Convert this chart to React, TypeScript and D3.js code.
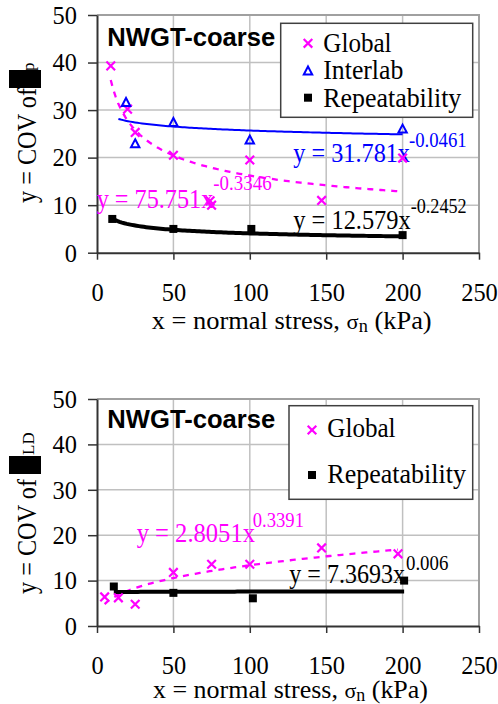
import React, { useEffect, useRef } from "react";
import * as d3 from "d3";

// axis ticks
const xTicks = [0, 50, 100, 150, 200, 250];
const yTicks = [0, 10, 20, 30, 40, 50];

// top panel (COV of ..p)
const topGlobalX = [9, 20, 25, 50, 74, 75, 100, 147, 200];
const topGlobalY = [39.3, 30.2, 25.3, 20.5, 10.9, 10.0, 19.5, 11.0, 19.9];
const topInterlabX = [19, 25, 50, 100, 200];
const topInterlabY = [31.6, 22.9, 27.4, 23.7, 26.0];
const topRepeatX = [10, 50, 101, 200];
const topRepeatY = [7.1, 5.0, 5.0, 3.7];

// power trendlines y = a * x^b : [a, b, xFrom, xTo]
const topGlobalFit = [75.751, -0.3346, 9, 200];
const topInterlabFit = [31.781, -0.0461, 14, 200];
const topRepeatFit = [12.579, -0.2452, 10, 200];

// bottom panel (COV of ..LD)
const botGlobalX = [5, 14, 25, 50, 75, 100, 147, 197];
const botGlobalY = [6.4, 6.2, 4.8, 11.8, 13.6, 13.6, 17.2, 15.9];
const botRepeatX = [11, 50, 102, 201];
const botRepeatY = [8.7, 7.3, 6.1, 10.0];
const botGlobalFit = [2.8051, 0.3391, 5, 197];
const botRepeatFit = [7.3693, 0.006, 11, 201];

const SERIF = "'Liberation Serif', 'Times New Roman', 'DejaVu Serif', serif";
const SANS = "'Liberation Sans', Arial, sans-serif";
const MAGENTA = "#ff00ff";
const BLUE = "#0000ff";

type Sel = d3.Selection<any, unknown, null, undefined>;

function drawMarker(g: Sel, kind: string, cx: number, cy: number) {
  if (kind === "x") {
    g.append("path")
      .attr("d", `M${cx - 4.3},${cy - 4.3}L${cx + 4.3},${cy + 4.3}M${cx - 4.3},${cy + 4.3}L${cx + 4.3},${cy - 4.3}`)
      .attr("stroke", MAGENTA).attr("stroke-width", 2.2).attr("fill", "none");
  } else if (kind === "tri") {
    g.append("path")
      .attr("d", `M${cx},${cy - 4.5}L${cx + 4.2},${cy + 3.5}L${cx - 4.2},${cy + 3.5}Z`)
      .attr("stroke", BLUE).attr("stroke-width", 2).attr("fill", "none");
  } else {
    g.append("rect").attr("x", cx - 4).attr("y", cy - 4).attr("width", 8).attr("height", 8).attr("fill", "#000");
  }
}

function label(g: Sel, t: string, x: number, y: number, size: number, w: number, color = "#000") {
  g.append("text")
    .attr("x", x).attr("y", y)
    .style("font-family", SERIF).style("font-size", size + "px").attr("fill", color)
    .attr("textLength", w).attr("lengthAdjust", "spacingAndGlyphs")
    .text(t);
}

function drawPanel(svg: Sel, p: any) {
  const x = d3.scaleLinear().domain([0, 250]).range([97, 479]);
  const y = d3.scaleLinear().domain([0, 50]).range([p.bottom, p.top]);
  const g = svg.append("g");

  // grid
  g.selectAll(".vg").data(xTicks.slice(1, -1)).join("line")
    .attr("x1", d => x(d)).attr("x2", d => x(d)).attr("y1", y(0)).attr("y2", y(50))
    .attr("stroke", "#c0c0c0").attr("stroke-width", 1.5);
  g.selectAll(".hg").data(yTicks.slice(1, -1)).join("line")
    .attr("x1", x(0)).attr("x2", x(250)).attr("y1", d => y(d)).attr("y2", d => y(d))
    .attr("stroke", "#c0c0c0").attr("stroke-width", 1.5);
  g.append("path")
    .attr("d", `M${x(0)},${y(50)}H${x(250)}V${y(0)}`)
    .attr("stroke", "#a0a0a0").attr("stroke-width", 2).attr("fill", "none");

  // axes
  const ya = g.append("g").attr("transform", `translate(${x(0)},0)`)
    .call(d3.axisLeft(y).tickValues(yTicks).tickSize(9).tickPadding(11).tickSizeOuter(0));
  const xa = g.append("g").attr("transform", `translate(0,${y(0)})`)
    .call(d3.axisBottom(x).tickValues(xTicks).tickSize(7).tickPadding(23).tickSizeOuter(0));
  [ya, xa].forEach(a => {
    a.attr("font-family", null).attr("font-size", null);
    a.select(".domain").attr("stroke", "#333").attr("stroke-width", 2);
    a.selectAll(".tick line").attr("stroke", "#333").attr("stroke-width", 1.5);
    a.selectAll(".tick text")
      .style("font-family", SERIF).style("font-size", "26px").attr("fill", "#000")
      .attr("textLength", (d: any) => String(d).length * 12.2)
      .attr("lengthAdjust", "spacingAndGlyphs");
  });

  // trendlines
  const line = d3.line<number[]>().x(d => x(d[0])).y(d => y(d[1]));
  p.fits.forEach((f: any) => {
    const [a, b, x0, x1] = f.fit;
    const pts = d3.range(x0, x1 + 0.01, (x1 - x0) / 120).map(v => [v, a * Math.pow(v, b)]);
    g.append("path").attr("d", line(pts)).attr("fill", "none")
      .attr("stroke", f.color).attr("stroke-width", f.width)
      .attr("stroke-dasharray", f.dash || null);
  });

  // equations
  p.eqs.forEach((e: any) => {
    label(g, e.main, e.x, e.y, 27, e.w, e.color);
    label(g, e.sup, e.sx, e.sy, 20, e.sw, e.color);
  });

  // markers
  p.series.forEach((s: any) => {
    s.xs.forEach((v: number, i: number) => drawMarker(g, s.kind, x(v), y(s.ys[i])));
  });

  // title
  g.append("text").attr("x", 107.3).attr("y", p.titleY)
    .style("font-family", SANS).attr("font-weight", "bold").style("font-size", "25px")
    .attr("textLength", 168).attr("lengthAdjust", "spacingAndGlyphs")
    .text("NWGT-coarse");

  // legend
  const L = p.legend;
  g.append("rect").attr("x", L.x).attr("y", L.y).attr("width", L.w).attr("height", L.h)
    .attr("fill", "#fff").attr("stroke", "#404040").attr("stroke-width", 1.5);
  L.items.forEach((it: any) => {
    drawMarker(g, it.kind, L.mx, it.cy);
    label(g, it.name, L.tx, it.by, 27, it.w);
  });

  // y title
  g.append("text")
    .attr("transform", `translate(36,${p.yTitleStart}) rotate(-90)`)
    .style("font-family", SERIF).style("font-size", "28px")
    .attr("textLength", 115).attr("lengthAdjust", "spacingAndGlyphs")
    .text("y = COV of");
  g.append("rect").attr("x", 9).attr("y", p.blockY).attr("width", 32).attr("height", 18).attr("fill", "#000");
  g.append("text")
    .attr("transform", `translate(${p.subX},${p.subY}) rotate(-90)`)
    .style("font-family", SERIF).style("font-size", p.subSize + "px")
    .text(p.sub);

  // x title
  const xt = g.append("text").attr("x", p.xtX).attr("y", p.xtY)
    .style("font-family", SERIF).style("font-size", "26px")
    .attr("textLength", p.xtW).attr("lengthAdjust", "spacingAndGlyphs");
  xt.append("tspan").text("x = normal stress, ");
  xt.append("tspan").style("font-size", "22px").text("σ");
  xt.append("tspan").style("font-size", "18px").attr("dy", 3).text("n");
  xt.append("tspan").attr("dy", -3).text(" (kPa)");
}

const panels = [
  {
    top: 15, bottom: 252.7, titleY: 46,
    fits: [
      { fit: topGlobalFit, color: MAGENTA, width: 2.3, dash: "6,6" },
      { fit: topInterlabFit, color: BLUE, width: 2 },
      { fit: topRepeatFit, color: "#000", width: 4 },
    ],
    series: [
      { kind: "x", xs: topGlobalX, ys: topGlobalY },
      { kind: "tri", xs: topInterlabX, ys: topInterlabY },
      { kind: "sq", xs: topRepeatX, ys: topRepeatY },
    ],
    eqs: [
      { main: "y = 31.781x", x: 293.3, y: 162, w: 116.7, sup: "-0.0461", sx: 409, sy: 146.5, sw: 57.7, color: BLUE },
      { main: "y = 75.751x", x: 96.7, y: 208, w: 116.6, sup: "-0.3346", sx: 213.3, sy: 190, sw: 58.4, color: MAGENTA },
      { main: "y = 12.579x", x: 293.3, y: 229, w: 117.4, sup: "-0.2452", sx: 410.7, sy: 213, sw: 56, color: "#000" },
    ],
    legend: {
      x: 280.7, y: 23.3, w: 192, h: 94, mx: 308, tx: 323.3,
      items: [
        { kind: "x", name: "Global", cy: 43.3, by: 51.7, w: 68.3 },
        { kind: "tri", name: "Interlab", cy: 71, by: 79.3, w: 80 },
        { kind: "sq", name: "Repeatability", cy: 97.7, by: 106.5, w: 138 },
      ],
    },
    yTitleStart: 203, blockY: 70, sub: "p", subX: 34, subY: 71, subSize: 17,
    xtX: 151.7, xtY: 329, xtW: 280,
  },
  {
    top: 399, bottom: 626, titleY: 427.7,
    fits: [
      { fit: botGlobalFit, color: MAGENTA, width: 2.3, dash: "6,6" },
      { fit: botRepeatFit, color: "#000", width: 4 },
    ],
    series: [
      { kind: "x", xs: botGlobalX, ys: botGlobalY },
      { kind: "sq", xs: botRepeatX, ys: botRepeatY },
    ],
    eqs: [
      { main: "y = 2.8051x", x: 136.7, y: 541.5, w: 118.3, sup: "0.3391", sx: 252.7, sy: 527, sw: 51.3, color: MAGENTA },
      { main: "y = 7.3693x", x: 289.3, y: 583, w: 115.7, sup: "0.006", sx: 406, sy: 570, sw: 42.3, color: "#000" },
    ],
    legend: {
      x: 289, y: 405.7, w: 183.7, h: 93.6, mx: 312, tx: 327.3,
      items: [
        { kind: "x", name: "Global", cy: 430, by: 437, w: 68.3 },
        { kind: "sq", name: "Repeatability", cy: 475, by: 483, w: 138.7 },
      ],
    },
    yTitleStart: 594, blockY: 456, sub: "LD", subX: 33.5, subY: 455, subSize: 17,
    xtX: 153, xtY: 698, xtW: 275,
  },
];

function App() {
  const ref = useRef<SVGSVGElement>(null);
  useEffect(() => {
    const svg = d3.select(ref.current) as Sel;
    svg.selectAll("*").remove();
    panels.forEach(p => drawPanel(svg, p));
  }, []);
  return (
    <svg ref={ref} width={498} height={704}
      style={{ position: "absolute", left: 0, top: 0, background: "#fff" }} />
  );
}

export default App;
